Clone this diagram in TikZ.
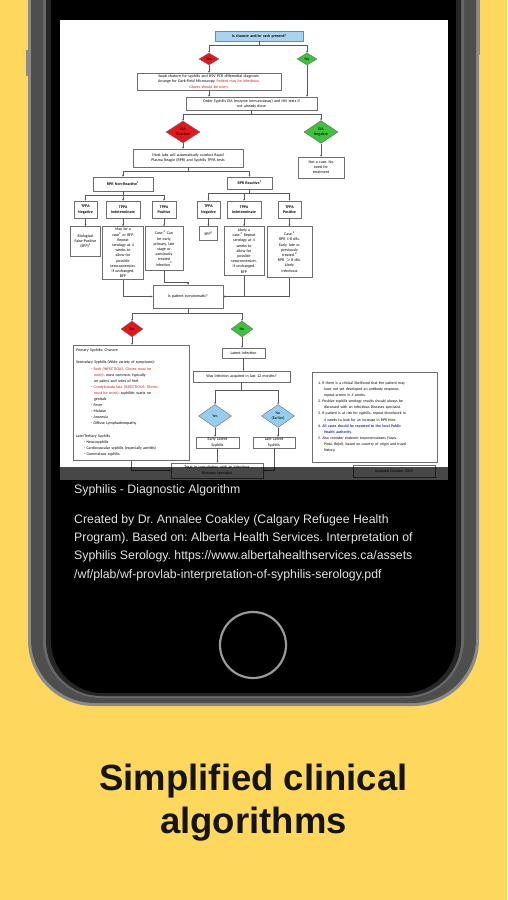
\documentclass[tikz,border=0pt]{standalone}
\usepackage{fontspec}
\setmainfont{Liberation Sans}
\newfontfamily\flowfamily{Carlito}
\usepackage{xcolor}
\definecolor{bgYellow}  {HTML}{FDD85D}
\definecolor{frameEdge} {HTML}{8A8A8A}
\definecolor{frameGray} {HTML}{4E4E4E}
\definecolor{frameMid}  {HTML}{686868}
\definecolor{frameDark} {HTML}{262626}
\definecolor{homeRing}  {HTML}{9A9A9A}
\definecolor{capText}   {HTML}{E4E4E4}
\definecolor{headText}  {HTML}{141414}
\definecolor{boxLine}   {HTML}{6E6E6E}
\definecolor{askBlue}   {HTML}{A8D4F2}
\definecolor{askLine}   {HTML}{5D8FB8}
\definecolor{yesRed}    {HTML}{E3161B}
\definecolor{noGreen}   {HTML}{3CC23C}
\definecolor{latBlue}   {HTML}{96CDEE}
\definecolor{noteBlue}  {HTML}{2222CC}
\usetikzlibrary{arrows.meta, positioning, calc, shapes.geometric}
\newcommand\flowsize{\flowfamily\fontsize{4.0}{5.2}\selectfont}
\newcommand\sups[1]{\textsuperscript{#1}}
\newcommand\warn[1]{\textcolor{yesRed}{#1}}
\frenchspacing
\tikzset{
    flowbox/.style={draw=boxLine, line width=0.5pt, fill=white, align=center,
                    inner xsep=0pt, inner ysep=0.5pt, font=\flowsize},
    boldbox/.style={flowbox, font=\flowsize\bfseries},
    askbox/.style={boldbox, fill=askBlue, draw=askLine},
    sz/.style 2 args={minimum width=#1pt, minimum height=#2pt, text width=#1pt},
    ddiam/.style={diamond, draw=boxLine, line width=0.4pt, inner sep=0pt,
                  align=center, font=\flowsize},
    yesdiam/.style={ddiam, fill=yesRed},
    nodiam/.style={ddiam, fill=noGreen},
    latdiam/.style={ddiam, fill=latBlue},
    link/.style={-{Stealth[length=2pt, width=1.8pt]}, line width=0.45pt, draw=boxLine!80!black},
    caption/.style={anchor=base west, inner sep=0pt, text=capText, font=\fontsize{12.3}{18}\selectfont},
    headline/.style={anchor=base, inner sep=0pt, text=headText, font=\fontsize{36.5}{44}\selectfont\bfseries},
}

\begin{document}
\begin{tikzpicture}[x=1pt, y=-1pt]
    \useasboundingbox (0,0) rectangle (507,900);
    \clip (0,0) rectangle (507,900);
    \fill[bgYellow] (0,0) rectangle (507,900);

    % phone body
    \fill[frameEdge] (26,50) rectangle (31,76);
    \fill[frameEdge] (475,-5) rectangle (480,55);
    \fill[frameEdge, rounded corners=66pt] (28,-100) -- (28,706) -- (479,706) -- (479,-100) -- cycle;
    \fill[frameGray, rounded corners=64pt] (31,-100) -- (31,703) -- (476,703) -- (476,-100) -- cycle;
    \fill[frameMid, rounded corners=58pt] (43,-100) -- (43,698) -- (464,698) -- (464,-100) -- cycle;
    \fill[frameDark, rounded corners=55pt] (46,-100) -- (46,696) -- (461,696) -- (461,-100) -- cycle;
    \fill[black, rounded corners=52pt] (51,-100) -- (51,693) -- (456,693) -- (456,-100) -- cycle;
    \draw[homeRing, line width=2.2pt] (253,645) circle (33pt);

    % screenshot of the algorithm
    \fill[white] (60,20) rectangle (448,480);

    \node[askbox, sz={88}{10}] (chancre) at (259,36) {Is chancre and/or rash present?};
    \node[yesdiam, minimum width=20pt, minimum height=12pt] (yes1) at (209,59) {Yes};
    \node[nodiam, minimum width=20pt, minimum height=12pt] (no1) at (307,59) {No};
    \node[flowbox, sz={144}{17}] (swab) at (209,81.5)
        {Swab chancre for syphilis and HSV PCR differential diagnosis.\\
         Arrange for Dark-Field Microscopy. \warn{Patient may be infectious.}\\
         \warn{Gloves should be worn.}};
    \node[flowbox, sz={131}{13}] (order) at (251.5,103.5)
        {Order Syphilis EIA (enzyme immunoassay) and HIV tests if\\not already done};
    \node[yesdiam, minimum width=34pt, minimum height=22pt] (eiapos) at (183,132) {EIA\\Reactive};
    \node[nodiam, minimum width=34pt, minimum height=22pt] (eianeg) at (321,132) {EIA\\Negative};
    \node[flowbox, sz={110}{18}] (labs) at (188,158)
        {Most labs will automatically conduct Rapid\\Plasma Reagin (RPR) and Syphilis TPPA tests};
    \node[flowbox, sz={46}{21}] (notcase) at (321,167.5) {Not a case. No\\need for\\treatment};

    \node[boldbox, sz={60}{14}] (rprneg) at (123,184) {RPR Non-Reactive\sups{1}};
    \node[boldbox, sz={45}{12}] (rprpos) at (249.5,183) {RPR Reactive\sups{1}};

    \node[boldbox, sz={23}{17}] (tnegA) at (85.5,209.5) {TPPA\\Negative};
    \node[boldbox, sz={34}{17}] (tindA) at (123,209.5) {TPPA\\Indeterminate};
    \node[boldbox, sz={24}{17}] (tposA) at (164,209.5) {TPPA\\Positive};
    \node[boldbox, sz={23}{17}] (tnegB) at (208.5,209.5) {TPPA\\Negative};
    \node[boldbox, sz={34}{17}] (tindB) at (244,209.5) {TPPA\\Indeterminate};
    \node[boldbox, sz={23}{17}] (tposB) at (289.5,209.5) {TPPA\\Positive};

    \node[flowbox, sz={30}{30}, below=8pt of tnegA] (bio) {Biological\\False-Positive\\(BFP)\sups{2}};
    \node[flowbox, sz={41}{53}, below=8pt of tindA] (maybe)
        {May be a\\case\sups{2} or BFP.\\Repeat\\serology at 4\\weeks to\\allow for\\possible\\seroconversion.\\If unchanged,\\BFP};
    \node[flowbox, sz={38}{44}, below=8pt of tposA] (caseA)
        {Case.\sups{2} Can\\be early\\primary, late\\stage or\\previously\\treated\\infection\sups{3}};
    \node[flowbox, sz={18}{14}, below=8pt of tnegB] (bfp) {BFP\sups{2}};
    \node[flowbox, sz={40}{49}, below=8pt of tindB] (likely)
        {Likely a\\case.\sups{2} Repeat\\serology at 4\\weeks to\\allow for\\possible\\seroconversion.\\If unchanged,\\BFP};
    \node[flowbox, sz={45}{51}, below=8pt of tposB] (caseB)
        {Case.\sups{2}\\RPR 1-8 dils.\\Early, late or\\previously\\treated.\sups{3}\\RPR $>$8 dils.\\Likely\\infectious};

    \node[flowbox, sz={70}{23}] (sympt) at (188,296.5) {Is patient symptomatic?};
    \node[yesdiam, minimum width=22pt, minimum height=16pt] (yes3) at (132,329) {Yes};
    \node[nodiam, minimum width=22pt, minimum height=16pt] (no3) at (242,329) {No};

    \node[flowbox, sz={116}{115}, text width=110pt, inner xsep=3pt, align=left,
          font=\flowfamily\fontsize{4.0}{6.1}\selectfont] (stages) at (131,402.5)
        {Primary Syphilis: Chancre\\[6.1pt]
         Secondary Syphilis (Wide variety of symptoms):\\
         \hspace*{15pt}- \warn{Rash (INFECTIOUS. Gloves must be}\\
         \hspace*{18pt}\warn{worn)}: most common, typically\\
         \hspace*{18pt}on palms and soles of feet\\
         \hspace*{15pt}- \warn{Condylomata lata (INFECTIOUS. Gloves}\\
         \hspace*{18pt}\warn{must be worn)}: syphilitic warts on\\
         \hspace*{18pt}genitals\\
         \hspace*{15pt}- Fever\\
         \hspace*{15pt}- Malaise\\
         \hspace*{15pt}- Anorexia\\
         \hspace*{15pt}- Diffuse Lymphadenopathy\\[6.1pt]
         Late/Tertiary Syphilis\\
         \hspace*{8pt}- Neurosyphilis\\
         \hspace*{8pt}- Cardiovascular syphilis (especially aortitis)\\
         \hspace*{8pt}- Gummatous syphilis};

    \node[flowbox, sz={43}{10}] (latent) at (243.5,353) {Latent Infection};
    \node[flowbox, sz={97}{11}] (recent) at (241.5,376.5) {Was infection acquired in last 12 months?};
    \node[latdiam, minimum width=33pt, minimum height=23pt] (yes4) at (215,416) {Yes};
    \node[latdiam, minimum width=33pt, minimum height=23pt] (no4) at (278,416) {No\\(Earlier)};
    \node[flowbox, sz={43}{11}] (early) at (217.5,442.5) {Early Latent\\Syphilis};
    \node[flowbox, sz={42}{11}] (late) at (274,442.5) {Late Latent\\Syphilis};
    \node[flowbox, sz={92}{15}] (treat) at (217,470.5) {Treat in consultation with an Infectious\\Diseases specialist};

    \node[flowbox, sz={125}{90}, text width=113pt, inner xsep=6pt, align=left,
          font=\flowfamily\fontsize{3.9}{6.1}\selectfont] (notes) at (374.5,417)
        {1.\ If there is a clinical likelihood that the patient may\\
         \hspace*{6pt}have not yet developed an antibody response,\\
         \hspace*{6pt}repeat screen in 4 weeks.\\
         2.\ Positive syphilis serology results should always be\\
         \hspace*{6pt}discussed with an Infectious Diseases specialist.\\
         3.\ If patient is at risk for syphilis, repeat bloodwork in\\
         \hspace*{6pt}4 weeks to look for an increase in RPR titre.\\
         \textcolor{noteBlue}{\bfseries 4.\ All cases should be reported to the local Public}\\
         \hspace*{6pt}\textcolor{noteBlue}{\bfseries Health authority.}\\
         5.\ Also consider endemic treponematoses (Yaws,\\
         \hspace*{6pt}Pinta, Bejel), based on country of origin and travel\\
         \hspace*{6pt}history.};
    \node[flowbox, sz={82}{12}] (updated) at (394,471) {Updated October 2019};

    % connectors
    \draw[link] (chancre.south) -- ++(0,4) -| (yes1.north);
    \draw[link] (chancre.south) -- ++(0,4) -| (no1.north);
    \draw[link] (yes1.south) -- (swab.north);
    \draw[link] (no1.south) -- (no1.south |- order.north);
    \draw[link] (swab.south) -- (swab.south |- order.north);
    \draw[link] (order.south) -- ++(0,4) -| (eiapos.north);
    \draw[link] (order.south) -- ++(0,4) -| (eianeg.north);
    \draw[link] (eiapos.south) -- (eiapos.south |- labs.north);
    \draw[link] (eianeg.south) -- (notcase.north);
    \draw[link] (labs.south) -- ++(0,4) -| (rprneg.north);
    \draw[link] (labs.south) -- ++(0,4) -| (rprpos.north);
    \draw[link] (rprneg.south) -- ++(0,4) -| (tnegA.north);
    \draw[link] (rprneg.south) -- ++(0,4) -| (tindA.north);
    \draw[link] (rprneg.south) -- ++(0,4) -| (tposA.north);
    \draw[link] (rprpos.south) -- ++(0,4) -| (tnegB.north);
    \draw[link] (rprpos.south) -- ++(0,4) -| (tindB.north);
    \draw[link] (rprpos.south) -- ++(0,4) -| (tposB.north);
    \draw[link] (tnegA) -- (bio);
    \draw[link] (tindA) -- (maybe);
    \draw[link] (tposA) -- (caseA);
    \draw[link] (tnegB) -- (bfp);
    \draw[link] (tindB) -- (likely);
    \draw[link] (tposB) -- (caseB);
    \draw[link] (maybe.south) |- (sympt.west);
    \draw[link] (caseA.south) -- ++(0,11) -| (sympt.north);
    \draw[link] (likely.south) |- (sympt.east);
    \draw[link] (caseB.south) |- (sympt.east);
    \draw[link] (sympt.south) -- ++(0,5) -| (yes3.north);
    \draw[link] (sympt.south) -- ++(0,5) -| (no3.north);
    \draw[link] (yes3.south) -- (yes3.south |- stages.north);
    \draw[link] (no3.south) -- (no3.south |- latent.north);
    \draw[link] (latent) -- (latent |- recent.north);
    \draw[link] (recent.south) -- ++(0,8) -| (yes4.north);
    \draw[link] (recent.south) -- ++(0,8) -| (no4.north);
    \draw[link] (yes4.south) -- (yes4.south |- early.north);
    \draw[link] (no4.south) -- (no4.south |- late.north);
    \draw[link] (early.south) -- (early.south |- treat.north);
    \draw[link] (stages.south) |- (treat.west);
    \draw[link] (late.south) |- (treat.east);

    % dark strip over the bottom of the screenshot
    \fill[black, fill opacity=0.72] (60,467) rectangle (448,480);

    % caption under the screenshot
    \node[caption] (title) at (74,493) {Syphilis - Diagnostic Algorithm};
    \node[caption] (credA) at (74,523) {Created by Dr. Annalee Coakley (Calgary Refugee Health};
    \node[caption] (credB) at (74,541) {Program). Based on: Alberta Health Services. Interpretation of};
    \node[caption] (credC) at (74,559.5) {Syphilis Serology. https://www.albertahealthservices.ca/assets};
    \node[caption] (credD) at (74,578) {/wf/plab/wf-provlab-interpretation-of-syphilis-serology.pdf};

    \node[headline] (headA) at (253.5,790) {Simplified clinical};
    \node[headline] (headB) at (253.5,833) {algorithms};
\end{tikzpicture}
\end{document}
